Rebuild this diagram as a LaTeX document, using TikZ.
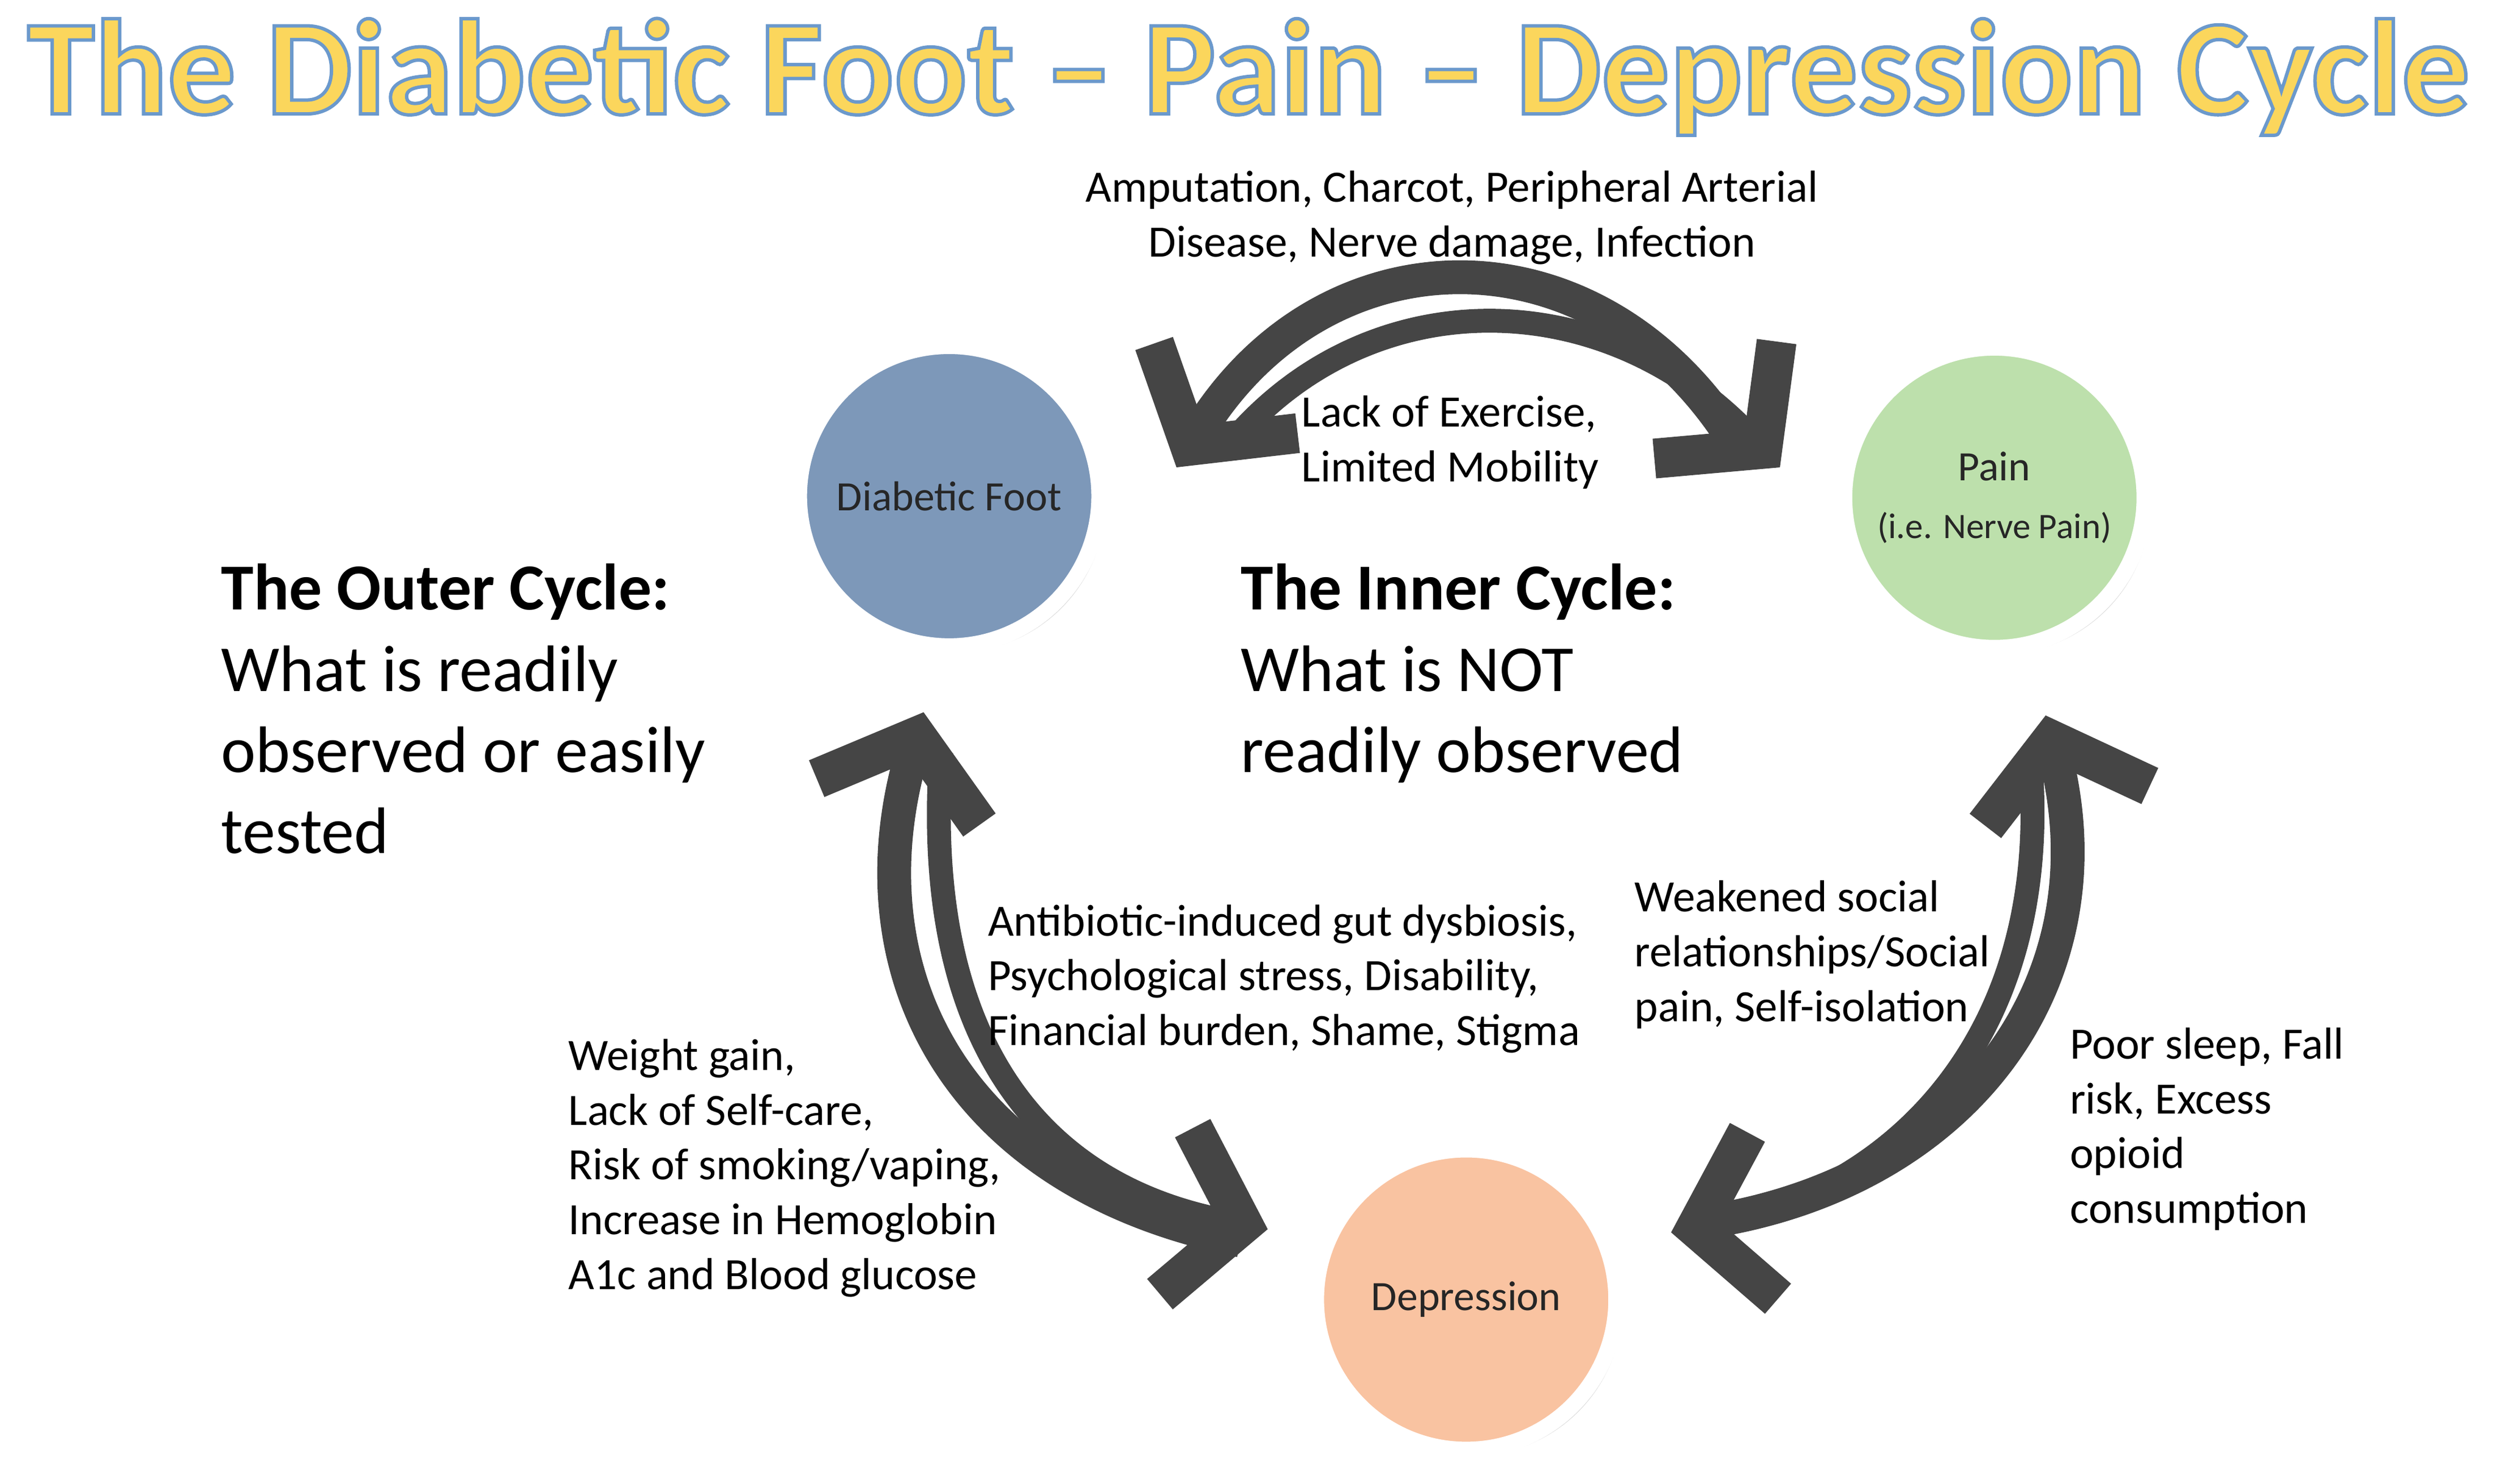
\documentclass[tikz,border=0pt]{standalone}
\usepackage{fontspec}
\setmainfont{Carlito}
\usetikzlibrary{arrows.meta,shadows}
\definecolor{arr}{HTML}{454545}
\definecolor{footc}{HTML}{7D98B9}
\definecolor{painc}{HTML}{BDE0AC}
\definecolor{depc}{HTML}{F9C3A1}
\definecolor{titley}{HTML}{FBD65C}
\begin{document}
\begin{tikzpicture}[x=0.02826cm,y=-0.02826cm,
  circ/.style={circle,minimum size=5.3cm,draw=white,line width=8pt,drop shadow={opacity=0.35,shadow xshift=3pt,shadow yshift=-3pt},font=\fontsize{21}{25}\selectfont,align=center,text=black!85},
  bigarr/.style={draw=arr,line width=17pt,-{Straight Barb[length=34pt,width=85pt,line width=20pt]}},
  lab/.style={anchor=north west,align=left,font=\fontsize{22.5}{27.5}\selectfont,inner sep=0pt},
  big/.style={anchor=north west,align=left,font=\fontsize{33}{40.8}\selectfont,inner sep=0pt}]
\useasboundingbox (0,0) rectangle (1560,927);
\node (title) at (780,48) {\resizebox{43.1cm}{!}{\color{titley}\special{pdf:literal direct 2 Tr 0.25 w 0.42 0.6 0.8 RG}\bfseries The Diabetic Foot -- Pain -- Depression Cycle\special{pdf:literal direct 0 Tr}}};
\node[circ,fill=footc] (foot) at (593,310) {Diabetic Foot};
\node[circ,fill=painc] (pain) at (1246,311) {Pain\\[4pt]{\fontsize{18}{21}\selectfont(i.e. Nerve Pain)}};
\node[circ,fill=depc] (dep) at (916,812) {Depression};
% top
\coordinate (t1) at (1085,278); \coordinate (t2) at (735,292);
\coordinate (t3) at (765,282); \coordinate (t4) at (1112,292);
\draw[bigarr] (t1) .. controls (1000,140) and (830,140) .. (t2);
\draw[bigarr,line width=12pt] (t3) .. controls (850,175) and (1000,175) .. (t4);
% left
\coordinate (l1) at (775,775); \coordinate (l2) at (577,445);
\coordinate (l3) at (588,470); \coordinate (l4) at (792,768);
\draw[bigarr] (l1) .. controls (600,740) and (530,610) .. (l2);
\draw[bigarr,line width=12pt] (l3) .. controls (575,650) and (650,740) .. (l4);
% right
\coordinate (r1) at (1055,765); \coordinate (r2) at (1278,447);
\coordinate (r3) at (1268,470); \coordinate (r4) at (1044,770);
\draw[bigarr] (r1) .. controls (1220,745) and (1320,620) .. (r2);
\draw[bigarr,line width=12pt] (r3) .. controls (1285,650) and (1180,745) .. (r4);
% labels
\node[align=center,font=\fontsize{22.5}{27.5}\selectfont,inner sep=0pt] (amp) at (907,136) {Amputation, Charcot, Peripheral Arterial\\Disease, Nerve damage, Infection};
\node[lab] (lack) at (813,247) {Lack of Exercise,\\Limited Mobility};
\node[big] (outer) at (138,352) {\textbf{The Outer Cycle:}\\What is readily\\observed or easily\\tested};
\node[big] (inner) at (775,352) {\textbf{The Inner Cycle:}\\What is NOT\\readily observed};
\node[lab] (anti) at (617,565) {Antibiotic-induced gut dysbiosis,\\Psychological stress, Disability,\\Financial burden, Shame, Stigma};
\node[lab] (weak) at (1021,550) {Weakened social\\relationships/Social\\pain, Self-isolation};
\node[lab] (wg) at (355,649) {Weight gain,\\Lack of Self-care,\\Risk of smoking/vaping,\\Increase in Hemoglobin\\A1c and Blood glucose};
\node[lab] (poor) at (1293,642) {Poor sleep, Fall\\risk, Excess\\opioid\\consumption};
\end{tikzpicture}
\end{document}
